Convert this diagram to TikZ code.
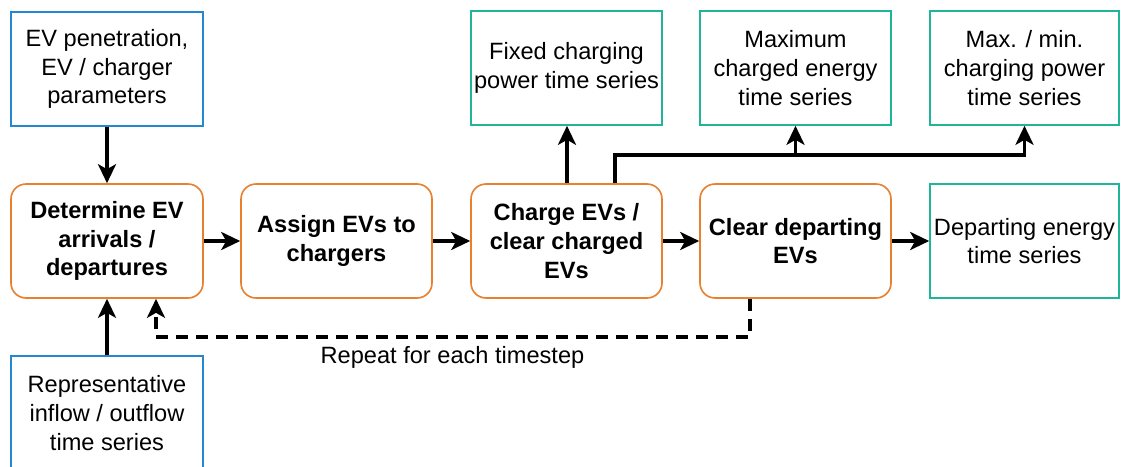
\documentclass[tikz,border=0pt]{standalone}
\usepackage{fontspec}
\setmainfont{Liberation Sans}
\usetikzlibrary{arrows.meta,calc}
\definecolor{inblue}{HTML}{2388D0}
\definecolor{steporange}{HTML}{E8802E}
\definecolor{outgreen}{HTML}{20B598}
\tikzset{
  box/.style={draw, line width=1.6pt, minimum height=114pt, align=center, inner sep=0pt,
    font=\fontsize{23.6}{28.6}\selectfont, fill=white},
  inbox/.style={box, draw=inblue, minimum width=192pt},
  stepbox/.style={box, draw=steporange, rounded corners=15pt, minimum width=191pt,
    font=\fontsize{23.6}{28.6}\selectfont\bfseries},
  outbox/.style={box, draw=outgreen, minimum width=190pt},
  arr/.style={line width=3.4pt, -{Stealth[length=19pt,width=18pt,inset=5pt]}},
}
\begin{document}
\begin{tikzpicture}[x=1pt,y=-1pt]
\useasboundingbox (0,0) rectangle (1122,466);
\node[inbox] (in1) at (107,69) {EV penetration,\\EV / charger\\parameters};
\node[inbox] (in2) at (107,413) {Representative\\inflow / outflow\\time series};
\node[stepbox, minimum width=192pt] (s1) at (107,241) {Determine EV\\arrivals /\\departures};
\node[stepbox] (s2) at (336.5,241) {Assign EVs to\\chargers};
\node[stepbox] (s3) at (566.5,241) {Charge EVs /\\clear charged\\EVs};
\node[stepbox] (s4) at (795.5,241) {Clear departing\\EVs};
\node[outbox, minimum width=189pt] (o4) at (1024.5,241) {Departing energy\\time series};
\node[outbox, minimum width=191pt] (o1) at (566.5,68) {Fixed charging\\power time series};
\node[outbox, minimum width=191pt] (o2) at (795.5,68) {Maximum\\charged energy\\time series};
\node[outbox, minimum width=189pt] (o3) at (1024.5,68) {Max. / min.\\charging power\\time series};
\node[font=\fontsize{23.6}{28.6}\selectfont] (rep) at (452.5,357) {Repeat for each timestep};
\coordinate (j) at (615,155);
\coordinate (dl) at (156,337);
\draw[arr] (in1) -- (s1);
\draw[arr] (in2) -- (s1);
\draw[arr] (s1) -- (s2);
\draw[arr] (s2) -- (s3);
\draw[arr] (s3) -- (s4);
\draw[arr] (s4) -- (o4);
\draw[arr] ([xshift=0.5pt]s3.north) -- ([xshift=0.5pt]o1.south);
\draw[arr] (j |- s3.north) -- (j) -| (o3.south);
\draw[arr] (o2.south |- j) -- (o2.south);
\draw[arr, dash pattern=on 12pt off 8pt] ([xshift=-45.5pt]s4.south) |- (dl) -- (dl |- s1.south);
\end{tikzpicture}
\end{document}
